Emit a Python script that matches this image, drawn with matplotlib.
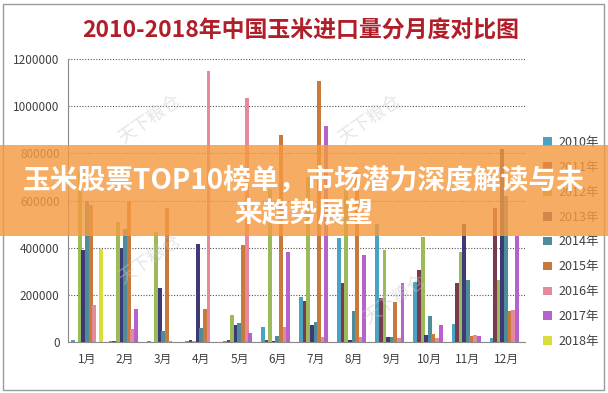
import numpy as np
import matplotlib
matplotlib.use("Agg")
import matplotlib.pyplot as plt
from matplotlib.patches import Rectangle
from matplotlib.ticker import FuncFormatter

plt.rcParams['font.family'] = ['Noto Sans CJK SC', 'DejaVu Sans']

months = ['1月', '2月', '3月', '4月', '5月', '6月', '7月', '8月', '9月', '10月', '11月', '12月']
years = ['2010年', '2011年', '2012年', '2013年', '2014年', '2015年', '2016年', '2017年', '2018年']

y2010 = [8000, 5000, 3000, 5000, 3000, 65000, 190000, 440000, 500000, 254000, 75000, 15000]
y2011 = [0, 3000, 2000, 10000, 10000, 10000, 175000, 250000, 186000, 305000, 250000, 570000]
y2012 = [720000, 510000, 465000, 3000, 115000, 650000, 700000, 650000, 390000, 445000, 380000, 262000]
y2013 = [390000, 400000, 230000, 415000, 70000, 5000, 70000, 10000, 20000, 30000, 500000, 820000]
y2014 = [600000, 480000, 45000, 60000, 80000, 25000, 85000, 130000, 20000, 110000, 262000, 620000]
y2015 = [580000, 600000, 570000, 140000, 410000, 876000, 1105000, 720000, 170000, 35000, 25000, 130000]
y2016 = [157000, 55000, 5000, 1150000, 1035000, 65000, 20000, 20000, 15000, 15000, 30000, 135000]
y2017 = [0, 140000, 0, 0, 38000, 380000, 915000, 370000, 250000, 70000, 25000, 450000]
y2018 = [394000, 0, 0, 0, 0, 0, 0, 0, 0, 0, 0, 0]

series = [y2010, y2011, y2012, y2013, y2014, y2015, y2016, y2017, y2018]
colors = ['#4BA3C3', '#7A3B4F', '#9BBB59', '#3E3A78', '#4E8C99',
          '#C87A3C', '#E48A9A', '#B563CC', '#D9DE3A']

W, H = 608, 393
fig = plt.figure(figsize=(W / 100, H / 100), dpi=100)
fig.patch.set_facecolor('white')

ax = fig.add_axes([68 / W, 1 - 342 / H, (525 - 68) / W, (342 - 59) / H])
x = np.arange(len(months))
n = len(series)
bw = 0.85 / n
for i, (vals, c, lab) in enumerate(zip(series, colors, years)):
    ax.bar(x + (i - (n - 1) / 2) * bw, vals, width=bw * 1.1, color=c, label=lab,
           edgecolor='none', zorder=3)

ax.set_ylim(0, 1200000)
ax.set_xlim(-0.5, len(months) - 0.5)
ax.set_yticks(np.arange(0, 1200001, 200000))
ax.yaxis.set_major_formatter(FuncFormatter(lambda v, p: f"{int(v)}"))
ax.set_xticks(x)
ax.set_xticklabels(months)
ax.tick_params(axis='both', labelsize=8.5, colors='#404040', length=0, pad=6)
ax.tick_params(axis='x', pad=8)
ax.grid(axis='y', linestyle=(0, (1, 1.5)), color='#555555', linewidth=0.8, zorder=0)
for s in ['top', 'right']:
    ax.spines[s].set_visible(False)
ax.spines['left'].set_color('#888888')
ax.spines['bottom'].set_color('#888888')

leg = fig.legend(loc='center left', bbox_to_anchor=(532 / W, 1 - 242 / H),
                 frameon=False, fontsize=9, labelspacing=0.95,
                 handlelength=0.7, handleheight=0.7, handletextpad=0.5)
for t in leg.get_texts():
    t.set_color('#404040')

fig.text(0.495, 1 - 31 / H, '2010-2018年中国玉米进口量分月度对比图',
         ha='center', va='center', fontsize=16.5, color='#B01E2A', fontweight='bold')

# chart border
fig.add_artist(Rectangle((3 / W, 3 / H), (W - 7) / W, (H - 7) / H,
                         transform=fig.transFigure, fill=False,
                         edgecolor='#9a9a9a', linewidth=1))

# watermarks
for (wx, wy) in [(150, 120), (370, 120), (150, 260), (395, 300)]:
    fig.text(wx / W, 1 - wy / H, '天下粮仓', rotation=35, fontsize=13,
             color='#c8c8c8', alpha=0.45, ha='center', va='center', zorder=5)

# orange banner
fig.add_artist(Rectangle((0, 1 - 236 / H), 1, 91 / H, transform=fig.transFigure,
                         facecolor='#F59A40', alpha=0.82, edgecolor='none', zorder=10))
fig.text(0.5, 1 - 180 / H, '玉米股票TOP10榜单，市场潜力深度解读与未',
         ha='center', va='center', fontsize=20, color='white', fontweight='bold', zorder=11)
fig.text(0.5, 1 - 214 / H, '来趋势展望',
         ha='center', va='center', fontsize=20, color='white', fontweight='bold', zorder=11)

fig.savefig('out.png', dpi=100)
